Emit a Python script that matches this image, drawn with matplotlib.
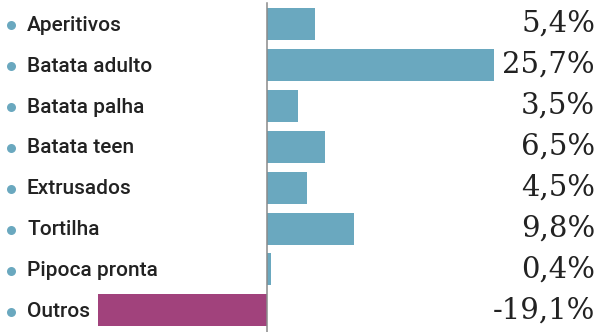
import matplotlib
matplotlib.use("Agg")
import matplotlib.pyplot as plt
import matplotlib.transforms as mtransforms

categories = ["Aperitivos", "Batata adulto", "Batata palha", "Batata teen",
              "Extrusados", "Tortilha", "Pipoca pronta", "Outros"]
values = [5.4, 25.7, 3.5, 6.5, 4.5, 9.8, 0.4, -19.1]
value_labels = ["5,4%", "25,7%", "3,5%", "6,5%", "4,5%", "9,8%", "0,4%", "-19,1%"]

BLUE = "#6aa8bf"
PURPLE = "#a1427c"

W, H = 597, 332
fig = plt.figure(figsize=(W / 100, H / 100), dpi=100)
ax = fig.add_axes([0, 0, 1, 1])

# pixel layout of the reference
x0_px = 267.0      # zero line
px_per_unit = 8.85
row0_px = 24.0
pitch_px = 40.9

ax.set_xlim(-x0_px / px_per_unit, (W - x0_px) / px_per_unit)
ax.set_ylim(7 + (H - (row0_px + 7 * pitch_px)) / pitch_px, -row0_px / pitch_px)
ax.axis("off")

ypos = list(range(len(categories)))
colors = [BLUE if v >= 0 else PURPLE for v in values]
ax.barh(ypos, values, height=32 / pitch_px, color=colors, zorder=2)

# zero line
ax.axvline(0, ymin=0, ymax=1 - 3 / H, color="#8a8a8a", lw=1.1, zorder=3)

trans = mtransforms.blended_transform_factory(fig.transFigure, ax.transData)
ax.scatter([11 / W] * len(ypos), [y + 0.03 for y in ypos], s=42, color=BLUE,
           transform=trans, zorder=3, linewidths=0)
for y, name in zip(ypos, categories):
    ax.text(27 / W, y + 0.03, name, transform=trans, ha="left", va="center",
            fontsize=15, family="Roboto", fontweight="medium", color="#222222")

for y, lab in zip(ypos, value_labels):
    ax.text(595 / W, y, lab, transform=trans, ha="right", va="center",
            fontsize=21, family="DejaVu Serif", color="#222222")

fig.savefig("out.png", dpi=100)
